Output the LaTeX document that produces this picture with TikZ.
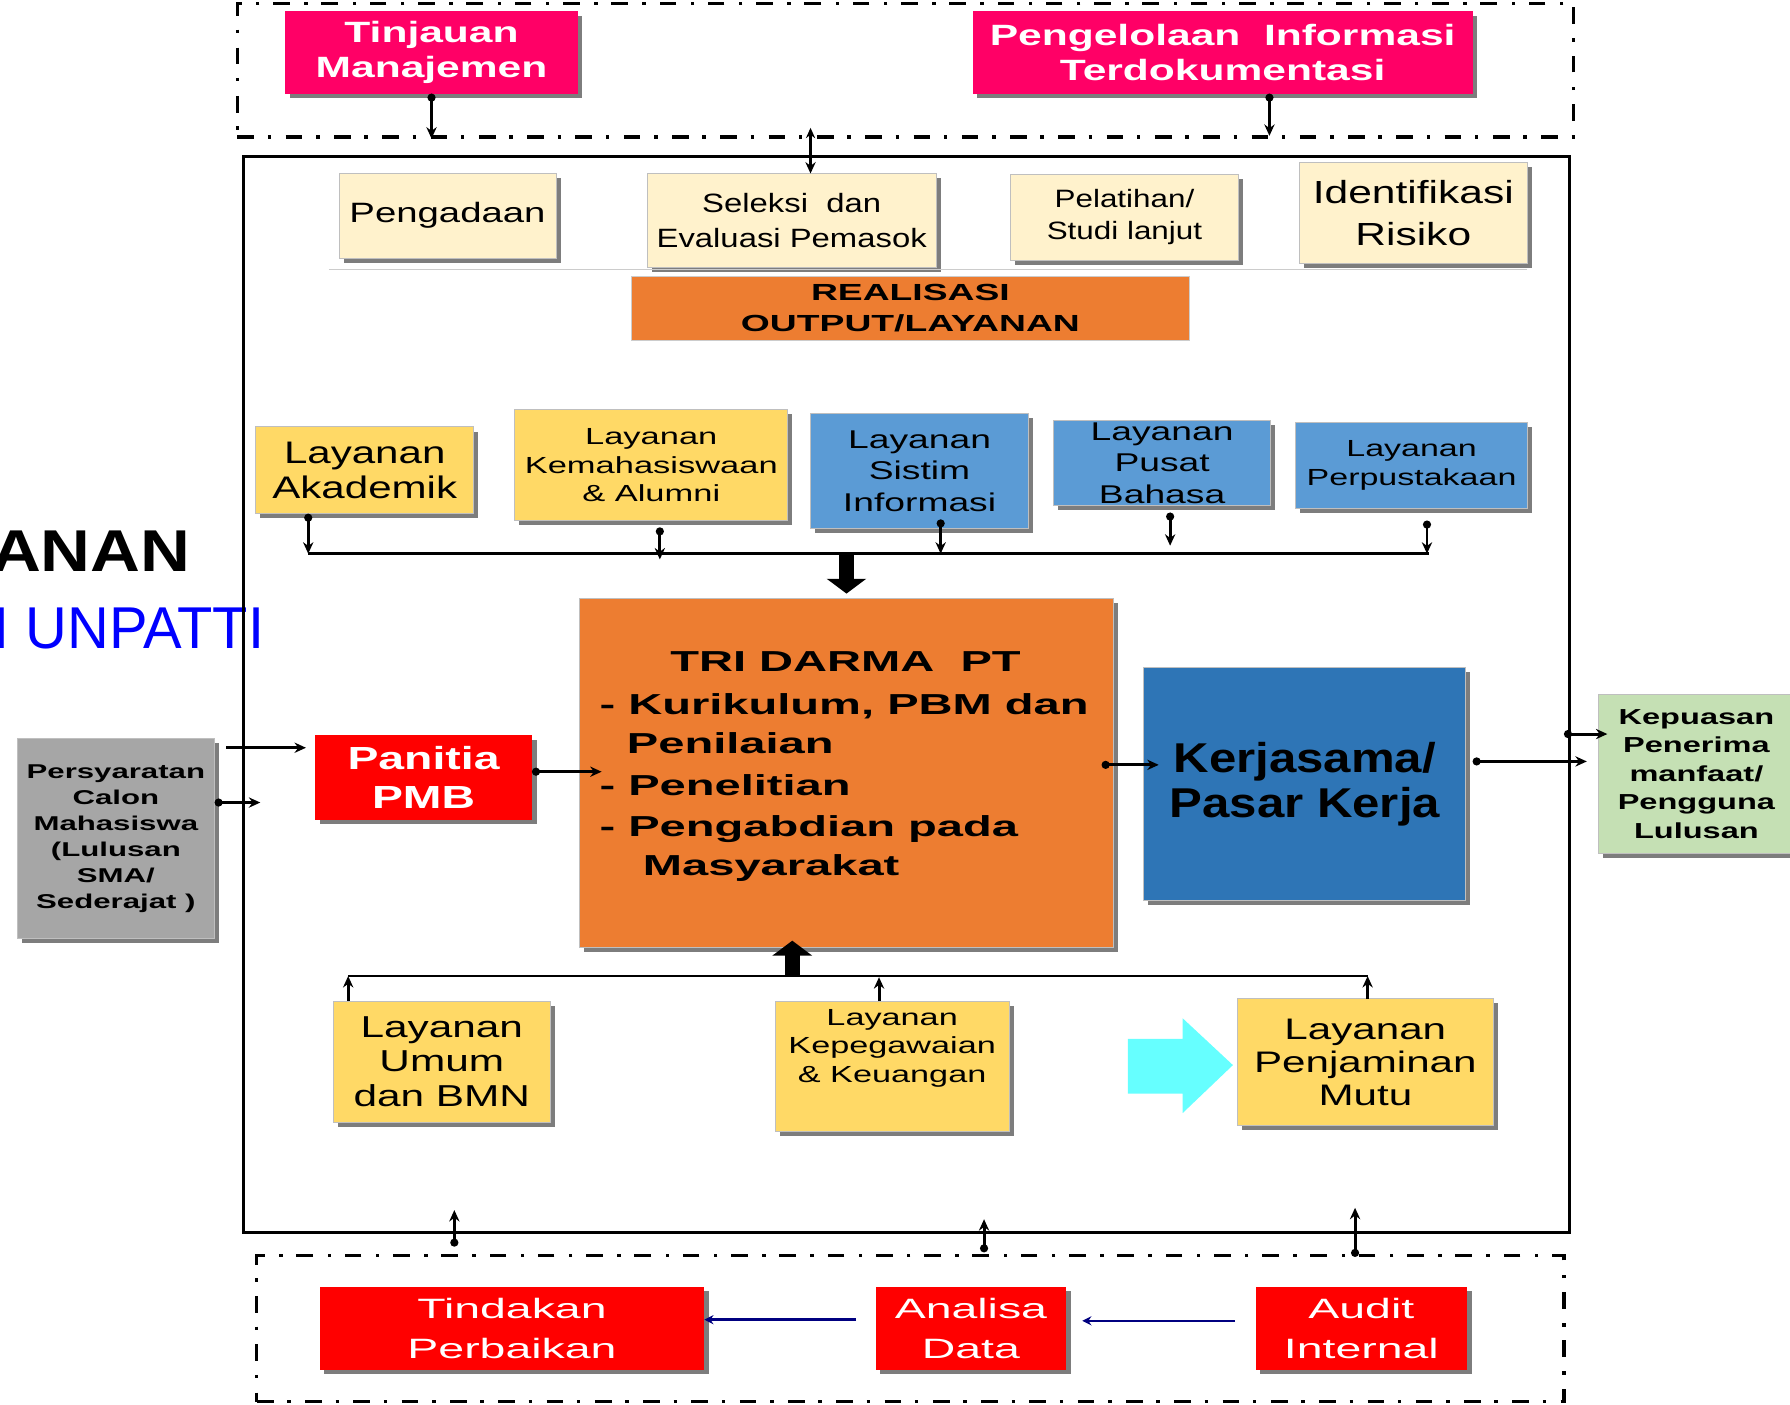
\documentclass[tikz,border=0pt]{standalone}
\usepackage{fontspec}
\setmainfont{Liberation Sans}
\usetikzlibrary{arrows.meta,shadows}
\definecolor{pinkbox}{HTML}{FF0066}
\definecolor{creambox}{HTML}{FFF2CC}
\definecolor{orangebox}{HTML}{ED7D31}
\definecolor{yellowbox}{HTML}{FFD966}
\definecolor{bluebox}{HTML}{5B9BD5}
\definecolor{darkbluebox}{HTML}{2E75B6}
\definecolor{greenbox}{HTML}{C5E0B4}
\definecolor{graybox}{HTML}{A6A6A6}
\definecolor{redbox}{HTML}{FF0000}
\definecolor{cyanarrow}{HTML}{66FFFF}
\definecolor{navyline}{HTML}{000080}
\definecolor{bluetext}{HTML}{0000FF}
\newcommand{\boxfont}[3]{\fontsize{#1}{#2}\selectfont\addfontfeatures{FakeStretch=#3}}

\begin{document}
\begin{tikzpicture}[x=1pt,y=-1pt,
    box/.style={draw=black!25,line width=0.8pt,inner sep=0pt,outer sep=0pt,align=center,
      drop shadow={shadow xshift=4pt,shadow yshift=-4pt,fill=black!85,opacity=0.6}},
    krem/.style={box,fill=creambox},
    kuning/.style={box,fill=yellowbox},
    biru/.style={box,fill=bluebox},
    merah/.style={box,fill=redbox,draw=none,text=white},
    frame/.style={draw,line width=2.8pt,dash pattern=on 14.6pt off 12pt on 3pt off 12.7pt,inner sep=0pt},
    conn/.style={line width=2.6pt,{Circle[length=7pt]}-{Stealth[length=10pt,width=9pt]}},
    plain/.style={line width=2.6pt,-{Stealth[length=10pt,width=9pt]}},
    fat/.style={line width=13pt,-{Triangle[length=13pt,width=34pt]}},
    back/.style={draw=navyline,line width=2.2pt,-{Stealth[length=8pt,width=8pt]}}]
  \useasboundingbox (0,0) rectangle (1568,1230);

  \node[anchor=base west,inner sep=0pt,font={\bfseries\boxfont{51.7}{55}{1.17}}] (judul) at (-8,501) {ANAN};
  \node[anchor=base west,inner sep=0pt,text=bluetext,font={\boxfont{51.7}{55}{0.98}}] (kampus) at (-6,568) {I UNPATTI};

  \node[frame,minimum width=1170pt,minimum height=117pt] (atas) at (793,61.5) {};
  \node[frame,minimum width=1145pt,minimum height=128pt] (bawah) at (797.5,1164) {};
  \node[draw,line width=2.5pt,inner sep=0pt,minimum width=1162pt,minimum height=943pt] (proses) at (794,608.5) {};

  \node[box,fill=pinkbox,draw=none,text=white,minimum width=256pt,minimum height=72pt,
    font={\bfseries\boxfont{25.7}{30}{1.45}}] (tinjauan) at (378,46) {Tinjauan\\Manajemen};
  \node[box,fill=pinkbox,draw=none,text=white,minimum width=438pt,minimum height=72pt,
    font={\bfseries\boxfont{25.7}{30}{1.45}}] (pengelolaan) at (1071,46) {Pengelolaan\ \ Informasi\\Terdokumentasi};

  \node[krem,minimum width=190pt,minimum height=74pt,font={\boxfont{24.5}{29}{1.37}}] (pengadaan) at (392,189) {Pengadaan};
  \node[krem,minimum width=253pt,minimum height=82pt,font={\boxfont{23.2}{30.7}{1.24}}] (seleksi) at (693.5,193) {Seleksi\ \ dan\\Evaluasi Pemasok};
  \node[krem,minimum width=200pt,minimum height=75pt,font={\boxfont{22}{28}{1.25}}] (pelatihan) at (985,190.5) {Pelatihan/\\Studi lanjut};
  \node[krem,minimum width=200pt,minimum height=89pt,font={\boxfont{28}{37}{1.33}}] (risiko) at (1238,186.5) {Identifikasi\\Risiko};
  \draw[black!20,line width=1pt] (pengadaan.south west |- 0,236) ++(-9,0) -- (risiko.south east |- 0,236);

  \node[draw=black!20,fill=orangebox,inner sep=0pt,align=center,minimum width=489pt,minimum height=56pt,
    font={\bfseries\boxfont{20.4}{27.7}{1.6}}] (realisasi) at (797.5,270) {REALISASI\\OUTPUT/LAYANAN};

  \node[kuning,minimum width=191pt,minimum height=76pt,font={\boxfont{27.3}{31}{1.35}}] (akademik) at (319.5,412) {Layanan\\Akademik};
  \node[kuning,minimum width=239pt,minimum height=97pt,font={\boxfont{20.4}{25}{1.48}}] (kemahasiswaan) at (570.5,407.5) {Layanan\\Kemahasiswaan\\\& Alumni};
  \node[biru,minimum width=191pt,minimum height=101pt,font={\boxfont{22.5}{27.5}{1.45}}] (sisinfo) at (805.5,412.5) {Layanan\\Sistim\\Informasi};
  \node[biru,minimum width=190pt,minimum height=75pt,font={\boxfont{22.5}{27.5}{1.45}}] (bahasa) at (1018,405.5) {Layanan\\Pusat\\Bahasa};
  \node[biru,minimum width=203pt,minimum height=75pt,font={\boxfont{20.4}{25}{1.46}}] (pustaka) at (1236.5,407.5) {Layanan\\Perpustakaan};

  \node[box,fill=orangebox,minimum width=467pt,minimum height=306pt] (tridarma) at (741.5,677) {};
  \node[anchor=north west,inner sep=0pt,align=left,font={\bfseries\boxfont{25.3}{33.6}{1.63}}] (tridarmateks)
    at ([xshift=17pt,yshift=-47pt]tridarma.north west)
    {\hspace*{62pt}TRI DARMA\ \ PT\\[4pt]- Kurikulum, PBM dan\\\hspace*{24pt}Penilaian\\[3pt]- Penelitian\\[3pt]- Pengabdian pada\\\hspace*{38pt}Masyarakat};
  \node[box,fill=darkbluebox,minimum width=282pt,minimum height=204pt,font={\bfseries\boxfont{36.5}{40}{1.18}}] (kerjasama) at (1143,687) {Kerjasama/\\Pasar Kerja};
  \node[box,fill=greenbox,minimum width=172pt,minimum height=140pt,font={\bfseries\boxfont{19}{25}{1.5}}] (kepuasan) at (1486,678) {Kepuasan\\Penerima\\manfaat/\\Pengguna\\Lulusan};
  \node[box,fill=graybox,minimum width=173pt,minimum height=175pt,font={\bfseries\boxfont{17.5}{22.8}{1.56}}] (syarat) at (101.5,734.5) {Persyaratan\\Calon\\Mahasiswa\\(Lulusan\\SMA/\\Sederajat )};
  \node[merah,minimum width=190pt,minimum height=74pt,font={\bfseries\boxfont{28}{34}{1.45}}] (panitia) at (371,681) {Panitia\\PMB};

  \node[kuning,minimum width=190pt,minimum height=106pt,font={\boxfont{26.5}{30.5}{1.4}}] (umum) at (387,930) {Layanan\\Umum\\dan BMN};
  \node[kuning,minimum width=205pt,minimum height=114pt] (pegawai) at (781.5,934) {};
  \node[inner sep=0pt,align=center,font={\boxfont{20.4}{25}{1.47}}] (pegawaiteks) at ([yshift=16pt]pegawai.center) {Layanan\\Kepegawaian\\\& Keuangan};
  \node[kuning,minimum width=224pt,minimum height=111pt,font={\boxfont{26}{29}{1.42}}] (penjamin) at (1196,930.5) {Layanan\\Penjaminan\\Mutu};
  \fill[cyanarrow] (988,910) -- (1036,910) -- (1036,892) -- (1080,933) -- (1036,975) -- (1036,958) -- (988,958) -- cycle;

  \node[merah,minimum width=337pt,minimum height=73pt,font={\boxfont{24.5}{35}{1.66}}] (tindakan) at (448.5,1163.5) {Tindakan\\Perbaikan};
  \node[merah,minimum width=167pt,minimum height=73pt,font={\boxfont{24.5}{35}{1.66}}] (analisa) at (850.5,1163.5) {Analisa\\Data};
  \node[merah,minimum width=185pt,minimum height=73pt,font={\boxfont{24.5}{35}{1.66}}] (audit) at (1192.5,1163.5) {Audit\\Internal};

  \coordinate (b1) at (270,485);
  \coordinate (b2) at (1252,485);
  \coordinate (b3) at (305,855);
  \coordinate (b4) at (1198,855);
  \coordinate (masuk) at (198,655);
  \coordinate (u1) at (398,1092);
  \coordinate (u2) at (862,1097);
  \coordinate (u3) at (1187,1101);

  \draw[conn] (tinjauan.south) -- (tinjauan.south |- atas.south);
  \draw[conn] ([xshift=41pt]pengelolaan.south) -- ++(0,37);
  \draw[line width=2.6pt,{Stealth[length=9pt,width=8pt]}-{Stealth[length=10pt,width=9pt]}]
    ([xshift=16.5pt,yshift=40pt]seleksi.north) -- ([xshift=16.5pt]seleksi.north);

  \draw[line width=2.4pt] (b1) -- (b2);
  \draw[conn] ([xshift=-49.5pt]akademik.south) -- (b1);
  \draw[conn] ([xshift=7.5pt,yshift=-6pt]kemahasiswaan.south) -- ++(0,28);
  \draw[conn] ([xshift=18.5pt,yshift=8pt]sisinfo.south) -- ++(0,30);
  \draw[conn] ([xshift=7pt,yshift=-6pt]bahasa.south) -- ++(0,29);
  \draw[conn] ([xshift=13.5pt,yshift=-11pt]pustaka.south) -- ++(0,29);
  \draw[fat] (tridarma.north |- b1) -- ([yshift=4pt]tridarma.north);

  \draw[line width=2.4pt] (b3) -- (b4);
  \draw[fat] ([xshift=-47.5pt,yshift=-25pt]tridarma.south) -- ([xshift=-47.5pt,yshift=6pt]tridarma.south);
  \draw[plain] (umum.north -| b3) -- (b3);
  \draw[plain] ([xshift=-11.5pt]pegawai.north) -- ++(0,-21);
  \draw[plain] (penjamin.north -| b4) -- (b4);

  \draw[plain] (masuk) -- ++(70,0);
  \draw[conn] ([yshift=31.5pt]syarat.east) -- ++(40,0);
  \draw[conn] ([yshift=5pt]panitia.east) -- ++(61,0);
  \draw[conn] ([xshift=-10pt,yshift=7pt]tridarma.east) -- ++(50,0);
  \draw[conn] ([xshift=6pt,yshift=20pt]kerjasama.east) -- ++(100,0);
  \draw[conn] ([xshift=-30pt,yshift=35pt]kepuasan.west) -- ++(38,0);

  \draw[conn] (u1) -- ++(0,-32);
  \draw[conn] (u2) -- ++(0,-29);
  \draw[conn] (u3) -- ++(0,-43);
  \draw[back] ([xshift=-17pt,yshift=7.5pt]analisa.west) -- ([yshift=7.5pt]tindakan.east);
  \draw[back] ([xshift=-18pt,yshift=6.5pt]audit.west) -- ([xshift=14pt,yshift=6.5pt]analisa.east);
\end{tikzpicture}
\end{document}
